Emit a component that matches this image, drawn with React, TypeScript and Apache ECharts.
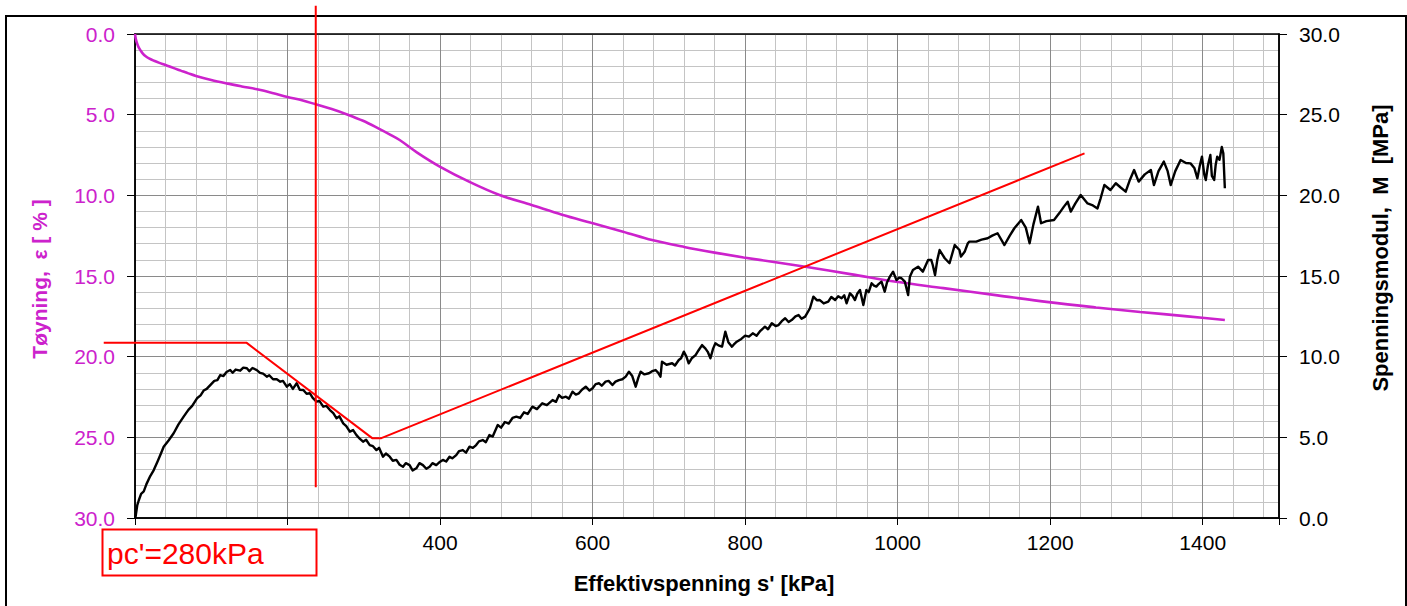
import React, { useEffect, useRef } from "react";
import * as echarts from "echarts";

// ---- Data ----
// Strain curve: [effective stress kPa, strain %]  (left axis, inverted)
const strainData: number[][] = [
  [0, 0], [1, 0.3], [2.5, 0.55], [4.5, 0.8], [7, 1.0], [10, 1.2], [14, 1.38], [19, 1.53],
  [25, 1.66], [32, 1.79], [40, 1.92], [50, 2.1], [60, 2.27], [70, 2.44], [80, 2.6],
  [100, 2.85], [120, 3.06], [140, 3.25], [160, 3.43], [180, 3.65], [200, 3.9], [220, 4.12],
  [237, 4.36], [258, 4.65], [279, 5.0], [299, 5.38], [319, 5.85], [335, 6.25], [347, 6.57],
  [370, 7.35], [399, 8.2], [440, 9.2], [478, 9.98], [520, 10.6], [560, 11.2], [598, 11.7],
  [640, 12.25], [678, 12.77], [720, 13.2], [760, 13.55], [798, 13.85], [840, 14.15],
  [879, 14.43], [940, 14.9], [998, 15.36], [1060, 15.75], [1131, 16.2], [1198, 16.62],
  [1260, 16.95], [1318, 17.23], [1380, 17.5], [1429, 17.73],
];

// Constrained modulus: [effective stress kPa, M MPa]  (right axis)
const modulusData: number[][] = [
  [0.5, 0.0], [3, 0.8], [5, 1.1], [8, 1.5], [11.5, 1.65], [15, 2.1], [20, 2.6], [24.6, 2.97],
  [30, 3.55], [34, 4.0], [37.6, 4.42], [44, 4.8], [50.7, 5.25], [57, 5.8], [63.8, 6.28],
  [70, 6.7], [75, 6.95], [81.3, 7.42], [86, 7.6], [90, 7.9], [94, 8.0], [98.7, 8.24],
  [104, 8.5], [108, 8.55], [111.8, 8.86], [116, 8.8], [120, 9.05], [124.8, 9.17], [128, 9.0],
  [132, 9.2], [137.9, 9.13], [142, 9.32], [146.7, 9.28], [150, 9.1], [154, 9.3],
  [159.7, 9.17], [164, 9.0], [168, 8.95], [172.8, 8.76], [176, 8.85], [181, 8.6],
  [185.9, 8.6], [190.5, 8.45], [194, 8.5], [199, 8.14], [203, 8.3], [207, 8.0], [212, 8.35],
  [216, 7.95], [220.7, 7.93], [225, 7.7], [229.4, 7.73], [233, 7.45], [238, 7.21],
  [242, 7.25], [246.8, 6.9], [251, 6.95], [255.6, 6.69], [260, 6.5], [264.3, 6.18],
  [268, 6.3], [273, 5.87], [277, 5.7], [281.7, 5.35], [286, 5.45], [290.4, 5.14], [295, 4.9],
  [299, 4.73], [303, 4.85], [307.8, 4.52], [312, 4.45], [316.6, 4.21], [320, 4.35],
  [325.2, 3.8], [329, 4.0], [334, 3.8], [338, 3.55], [342.7, 3.6], [347, 3.3], [351.4, 3.18],
  [355, 3.4], [360, 3.28], [364, 2.95], [368.9, 3.08], [373, 3.4], [377.5, 3.28], [382, 3.05],
  [386.3, 3.18], [390, 3.4], [395, 3.28], [399, 3.45], [403.7, 3.6], [408, 3.5],
  [412.4, 3.8], [416, 3.7], [421.2, 3.9], [425, 4.15], [429.8, 4.21], [434, 4.05],
  [438.6, 4.42], [443, 4.35], [447.3, 4.52], [451, 4.75], [456, 4.83], [460, 4.7],
  [464.7, 5.14], [469, 5.05], [475.6, 5.76], [480, 5.6], [485, 5.95], [490, 5.85],
  [495, 6.2], [500, 6.28], [505, 6.2], [510, 6.55], [515, 6.45], [521, 6.9], [527, 6.75],
  [534, 7.11], [540, 7.0], [547.5, 7.31], [552, 7.2], [556, 7.62], [560, 7.45], [565, 7.52],
  [569, 7.4], [573.6, 7.83], [578, 7.65], [582, 7.73], [586, 7.95], [591, 8.14], [596, 7.9],
  [600, 8.04], [604, 8.3], [608.5, 8.35], [612, 8.2], [617, 8.45], [621, 8.5], [626, 8.24],
  [630, 8.45], [634.6, 8.55], [639, 8.6], [643.4, 8.76], [647.7, 9.07], [652, 8.8],
  [656.5, 8.14], [660, 8.7], [663, 9.07], [668, 8.9], [673.9, 8.97], [678, 9.1],
  [682.6, 9.17], [686, 9.0], [689, 8.76], [691, 9.69], [697, 9.5], [704.3, 9.59],
  [708, 9.45], [713, 9.79], [716, 9.9], [719.6, 10.31], [723, 10.0], [726, 9.59],
  [730, 9.9], [735, 10.1], [739, 10.4], [743.5, 10.72], [748, 10.5], [751, 10.3],
  [754.5, 9.9], [758, 10.5], [761, 10.83], [765, 10.7], [769.7, 10.62], [774, 11.55],
  [778, 10.9], [782.7, 10.62], [786, 10.8], [789, 10.93], [795, 11.1], [800, 11.3],
  [805, 11.24], [810, 11.45], [815, 11.3], [820, 11.6], [826, 11.86], [830, 11.7],
  [835, 12.07], [840, 11.9], [843.8, 11.96], [848, 12.2], [852.5, 12.38], [857, 12.15],
  [861, 12.27], [866, 12.5], [870, 12.58], [874, 12.35], [878.7, 12.48], [885, 13.0],
  [889.5, 13.72], [894, 13.5], [898, 13.51], [903, 13.3], [909, 13.41], [913, 13.7],
  [918, 13.51], [922, 13.75], [926.5, 13.62], [930, 13.8], [933, 13.31], [937.5, 13.93],
  [941, 13.75], [944, 13.51], [947, 13.9], [950.6, 14.13], [955, 13.2], [959, 14.13],
  [962, 14.0], [965.8, 14.55], [969, 14.4], [972, 14.34], [975, 14.5], [978.8, 14.65],
  [983, 14.03], [986, 14.6], [989.8, 14.96], [994, 15.27], [998.4, 14.75], [1002, 14.9],
  [1005, 14.86], [1009.4, 14.65], [1013.7, 13.82], [1016, 14.96], [1020, 15.37],
  [1026.8, 15.58], [1033, 15.27], [1039.9, 15.99], [1044, 16.0], [1046, 15.68],
  [1049, 15.06], [1052, 16.0], [1055, 16.61], [1061.7, 16.1], [1068, 15.79],
  [1074.8, 16.92], [1081, 16.61], [1083, 16.2], [1087.8, 16.5], [1092, 17.03],
  [1094, 17.13], [1103, 17.13], [1110, 17.25], [1118, 17.34], [1124, 17.5], [1131, 17.65],
  [1140, 16.92], [1147, 17.5], [1153, 17.96], [1162, 18.47], [1168, 18.0], [1173, 17.03],
  [1178, 18.2], [1184, 19.3], [1188, 18.27], [1195, 18.4], [1205, 18.47], [1212, 18.9],
  [1218, 19.3], [1223, 19.6], [1227, 18.99], [1233, 19.5], [1240, 20.02], [1249, 19.5],
  [1255, 19.4], [1262, 19.19], [1266, 19.8], [1271, 20.64], [1279, 20.33], [1286, 20.75],
  [1292, 20.5], [1299, 20.23], [1304, 20.9], [1310, 21.57], [1316, 20.85], [1324, 21.3],
  [1332, 21.57], [1336, 20.64], [1342, 21.5], [1349, 22.09], [1354, 21.5], [1358, 20.64],
  [1364, 21.5], [1371, 22.19], [1378, 22.0], [1384, 21.98], [1389, 21.7], [1393, 21.05],
  [1396, 21.8], [1399, 22.4], [1402, 21.3], [1404, 20.95], [1407, 21.9], [1410, 22.5],
  [1412, 21.2], [1415, 20.95], [1417, 21.9], [1419, 22.4], [1422, 22.2], [1425, 23.0],
  [1427, 22.6], [1429, 20.44],
];

// Red interpretation lines (MPa scale)
const trendLine: number[][] = [
  [-41, 10.87], [146, 10.87], [311, 4.95], [323, 4.95], [1245, 22.6],
];
const pcLine: number[][] = [
  [237, 31.75], [237, 1.9],
];

const xLabelValues = [400, 600, 800, 1000, 1200, 1400];

const FONT = '"Liberation Sans", Arial, sans-serif';
const MAGENTA = "#CC22CC";
const GRID_MAJOR = "#8a8a8a";
const GRID_MINOR = "#c4c4c4";

// plot geometry
const PLOT_LEFT = 135;
const PLOT_RIGHT = 128;
const PLOT_TOP = 34;
const PLOT_BOTTOM = 88;
const X_MIN = 0;
const X_MAX = 1500;
const EXT_X_MIN = -100; // extended (hidden) axis for the trend line that starts left of the plot

export default function App() {
  const ref = useRef<HTMLDivElement>(null);

  useEffect(() => {
    if (!ref.current) return;
    const chart = echarts.init(ref.current, undefined, { renderer: "svg" });
    const plotWidth = 1407 - PLOT_LEFT - PLOT_RIGHT;
    const pxPerUnit = plotWidth / (X_MAX - X_MIN);
    const extLeft = PLOT_LEFT - (X_MIN - EXT_X_MIN) * pxPerUnit;

    const option: any = {
      animation: false,
      backgroundColor: "#ffffff",
      grid: [
        { left: PLOT_LEFT, right: PLOT_RIGHT, top: PLOT_TOP, bottom: PLOT_BOTTOM, containLabel: false },
        { left: extLeft, right: PLOT_RIGHT, top: PLOT_TOP, bottom: PLOT_BOTTOM, containLabel: false },
      ],
      xAxis: [
        {
          type: "value",
          gridIndex: 0,
          min: X_MIN,
          max: X_MAX,
          interval: 200,
          position: "bottom",
          axisLine: { show: true, onZero: false, lineStyle: { color: "#000", width: 1.5 } },
          axisTick: { show: true, length: 7, lineStyle: { color: "#000", width: 1 } },
          axisLabel: {
            fontSize: 21,
            fontFamily: FONT,
            color: "#000",
            margin: 14,
            formatter: (v: number) => (xLabelValues.indexOf(v) >= 0 ? String(v) : ""),
          },
          splitLine: { show: false },
        },
        {
          type: "value",
          gridIndex: 0,
          min: X_MIN,
          max: X_MAX,
          interval: 40,
          position: "bottom",
          axisLine: { show: false },
          axisTick: { show: false },
          axisLabel: { show: false },
          splitLine: {
            show: true,
            lineStyle: {
              color: [GRID_MAJOR, GRID_MINOR, GRID_MINOR, GRID_MINOR, GRID_MINOR],
              width: 1,
            },
          },
        },
        {
          type: "value",
          gridIndex: 1,
          min: EXT_X_MIN,
          max: X_MAX,
          show: false,
        },
      ],
      yAxis: [
        {
          type: "value",
          gridIndex: 0,
          min: 0,
          max: 30,
          interval: 5,
          inverse: true,
          position: "left",
          axisLine: { show: true, onZero: false, lineStyle: { color: "#000", width: 1.5 } },
          axisTick: { show: true, length: 8, lineStyle: { color: "#000" } },
          axisLabel: {
            fontSize: 21,
            fontFamily: FONT,
            color: MAGENTA,
            margin: 20,
            formatter: (v: number) => v.toFixed(1),
          },
          splitLine: { show: true, lineStyle: { color: GRID_MAJOR, width: 1 } },
          minorTick: { show: false, splitNumber: 5 },
          minorSplitLine: { show: true, lineStyle: { color: GRID_MINOR, width: 1 } },
        },
        {
          type: "value",
          gridIndex: 0,
          min: 0,
          max: 30,
          interval: 5,
          position: "right",
          axisLine: { show: true, onZero: false, lineStyle: { color: "#000", width: 1.5 } },
          axisTick: { show: true, length: 8, lineStyle: { color: "#000" } },
          axisLabel: {
            fontSize: 21,
            fontFamily: FONT,
            color: "#000",
            margin: 20,
            formatter: (v: number) => v.toFixed(1),
          },
          splitLine: { show: false },
        },
        {
          type: "value",
          gridIndex: 1,
          min: 0,
          max: 30,
          show: false,
        },
      ],
      series: [
        {
          name: "Tøyning",
          type: "line",
          xAxisIndex: 0,
          yAxisIndex: 0,
          data: strainData,
          showSymbol: false,
          smooth: 0.35,
          lineStyle: { color: MAGENTA, width: 2.6 },
          z: 3,
        },
        {
          name: "Spenningsmodul",
          type: "line",
          xAxisIndex: 0,
          yAxisIndex: 1,
          data: modulusData,
          showSymbol: false,
          lineStyle: { color: "#000", width: 2.4, join: "round" },
          z: 4,
        },
        {
          name: "Tolkning",
          type: "line",
          xAxisIndex: 2,
          yAxisIndex: 2,
          data: trendLine,
          showSymbol: false,
          clip: false,
          lineStyle: { color: "#ff0000", width: 2 },
          z: 5,
        },
        {
          name: "pc",
          type: "line",
          xAxisIndex: 0,
          yAxisIndex: 1,
          data: pcLine,
          showSymbol: false,
          clip: false,
          lineStyle: { color: "#ff0000", width: 2 },
          z: 5,
        },
      ],
      graphic: [
        {
          type: "rect",
          z: 1,
          silent: true,
          shape: { x: 6, y: 16, width: 1400, height: 600 },
          style: { fill: "none", stroke: "#000", lineWidth: 2 },
        },
        {
          type: "rect",
          z: 1,
          silent: true,
          shape: { x: 135, y: 34, width: 1144, height: 484 },
          style: { fill: "none", stroke: "#000", lineWidth: 1.5 },
        },
        {
          type: "rect",
          z: 10,
          silent: true,
          shape: { x: 102.5, y: 529.5, width: 214, height: 46 },
          style: { fill: "#fff", stroke: "#ff0000", lineWidth: 2 },
        },
        {
          type: "text",
          z: 11,
          silent: true,
          x: 107,
          y: 553,
          style: {
            text: "pc'=280kPa",
            fill: "#ff0000",
            font: `30px ${FONT}`,
            align: "left",
            verticalAlign: "middle",
          },
        },
        {
          type: "text",
          z: 11,
          silent: true,
          x: 704,
          y: 583,
          style: {
            text: "Effektivspenning s' [kPa]",
            fill: "#000",
            font: `bold 22px ${FONT}`,
            align: "center",
            verticalAlign: "middle",
          },
        },
        {
          type: "text",
          z: 11,
          silent: true,
          x: 39,
          y: 279,
          rotation: Math.PI / 2,
          style: {
            text: "Tøyning,  ε [ % ]",
            fill: MAGENTA,
            font: `bold 21px ${FONT}`,
            align: "center",
            verticalAlign: "middle",
          },
        },
        {
          type: "text",
          z: 11,
          silent: true,
          x: 1380,
          y: 248,
          rotation: Math.PI / 2,
          style: {
            text: "Spenningsmodul,  M  [MPa]",
            fill: "#000",
            font: `bold 22px ${FONT}`,
            align: "center",
            verticalAlign: "middle",
          },
        },
      ],
    };
    chart.setOption(option);
    return () => chart.dispose();
  }, []);

  return (
    <div
      ref={ref}
      style={{ position: "fixed", left: 0, top: 0, width: 1407, height: 606, background: "#fff" }}
    />
  );
}
